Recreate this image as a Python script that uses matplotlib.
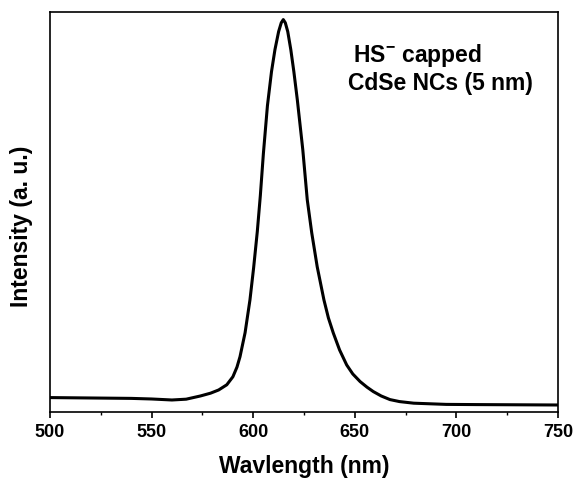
import numpy as np
import matplotlib.pyplot as plt

plt.rcParams['font.family'] = ['Liberation Sans', 'DejaVu Sans']
plt.rcParams['font.weight'] = 'bold'
plt.rcParams['mathtext.fontset'] = 'custom'
plt.rcParams['mathtext.rm'] = 'Liberation Sans:bold'
plt.rcParams['mathtext.bf'] = 'Liberation Sans:bold'

# PL spectrum (wavelength in nm, intensity normalised)
wavelength = [500, 520, 540, 550, 560, 567, 574, 579, 583, 587, 590, 592, 593.5,
              596.0, 598.4, 600.2, 602.0, 603.5, 605.0, 607.0, 609.0, 610.7, 612.5,
              613.8, 614.8, 615.8, 617.0, 618.5, 620.0, 621.7, 624.4, 626.6, 628.8,
              631.5, 634.8, 637.0, 639.4, 642.5, 646.0, 649.0, 652.6, 656.0, 659.1,
              663.0, 667.3, 672.0, 679.0, 687.0, 695.0, 710.0, 730.0, 750.0]
intensity = [0.036, 0.035, 0.034, 0.0325, 0.030, 0.032, 0.040, 0.047, 0.055, 0.068,
             0.088, 0.112, 0.138, 0.198, 0.28, 0.36, 0.45, 0.54, 0.645, 0.765,
             0.85, 0.905, 0.95, 0.972, 0.98, 0.972, 0.95, 0.905, 0.85, 0.78, 0.655,
             0.53, 0.4475, 0.3625, 0.28, 0.235, 0.1975, 0.155, 0.1175, 0.095, 0.076,
             0.062, 0.051, 0.040, 0.031, 0.026, 0.022, 0.0205, 0.019, 0.0185, 0.018,
             0.0175]

xticks = [500, 550, 600, 650, 700, 750]

fig = plt.figure(figsize=(5.76, 4.83), dpi=100)
ax = fig.add_axes([0.0868, 0.147, 0.882, 0.829])

ax.plot(wavelength, intensity, color='black', linewidth=2.2,
        solid_joinstyle='round')

ax.set_xlim(500, 750)
ax.set_ylim(0, 1.0)
ax.set_xticks(xticks)
ax.set_xticks(np.arange(525, 750, 50), minor=True)
ax.set_yticks([])
ax.tick_params(axis='x', which='major', direction='out', length=4, width=1.2,
               labelsize=13, pad=5)
ax.tick_params(axis='x', which='minor', direction='out', length=2.5, width=1)
for s in ax.spines.values():
    s.set_linewidth(1.2)

ax.set_xlabel('Wavlength (nm)', fontsize=16.5, fontweight='bold')
ax.set_ylabel('Intensity (a. u.)', fontsize=16.5, fontweight='bold')
ax.xaxis.set_label_coords(0.5, -0.108)
ax.yaxis.set_label_coords(-0.033, 0.4625)

ax.text(0.596, 0.891, r'HS$^{\mathbf{-}}$ capped', transform=ax.transAxes,
        fontsize=16.5, fontweight='bold', ha='left', va='center')
ax.text(0.587, 0.821, 'CdSe NCs (5 nm)', transform=ax.transAxes,
        fontsize=16.5, fontweight='bold', ha='left', va='center')

fig.savefig('out.png', dpi=100)
